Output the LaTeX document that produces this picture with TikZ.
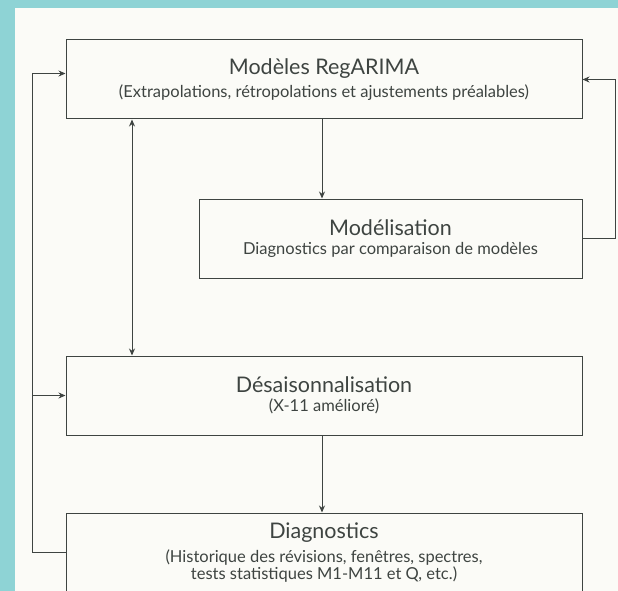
\documentclass[tikz,border=0pt]{standalone}
\usepackage{fontspec}
\setmainfont{Lato}
\usepackage{xcolor}
\usetikzlibrary{arrows.meta, positioning}

\definecolor{framecol}{HTML}{8ED3D5}
\definecolor{paper}{HTML}{FBFBF7}
\definecolor{ink}{HTML}{3E4441}

\newcommand{\boxtitle}{\fontsize{21.5}{24}\selectfont}
\newcommand{\boxsub}{\fontsize{16.5}{20}\selectfont}

\begin{document}
\begin{tikzpicture}[
    x=1pt, y=1pt,
    box/.style={draw=ink, line width=1pt, fill=paper, minimum height=79pt,
                align=center, inner sep=0pt, text=ink},
    arrow/.style={-{Stealth[length=7pt, width=6pt]}, line width=1pt, draw=ink},
]
    % frame and background
    \useasboundingbox (0,0) rectangle (618,-591);
    \fill[framecol] (0,0) rectangle (618,-591);
    \fill[paper] (15,-8) rectangle (618,-591);

    \node[box, minimum width=516pt] (regarima) at (324,-79.5)
        {\boxtitle Modèles RegARIMA\\[5pt]
         \boxsub (Extrapolations, rétropolations et ajustements préalables)};
    \node[box, minimum width=383pt, below left=79pt and 0pt of regarima.south east, anchor=north east] (modelisation)
        {\boxtitle Modélisation\\[5pt]
         \boxsub Diagnostics par comparaison de modèles};
    \node[box, minimum width=516pt, below=236pt of regarima] (desais)
        {\boxtitle Désaisonnalisation\\[5pt]
         \boxsub (X-11 amélioré)};
    \node[box, minimum width=516pt, below=77pt of desais] (diag)
        {\boxtitle Diagnostics\\[6pt]
         \boxsub (Historique des révisions, fenêtres, spectres,\\
         \boxsub tests statistiques M1-M11 et Q, etc.)};

    % feedback loops
    \coordinate (loopL) at (32,0);
    \coordinate (loopR) at (615,0);
    \coordinate (dbl) at (132,0);
    \coordinate (mid) at (322,0);
    \draw[arrow] (diag.west) -- (diag.west -| loopL) -- ([yshift=6pt]regarima.west -| loopL) -- ([yshift=6pt]regarima.west);
    \draw[arrow] (desais.west -| loopL) -- (desais.west);
    \draw[arrow] (modelisation.east) -- (modelisation.east -| loopR) -- (regarima.east -| loopR) -- (regarima.east);

    % main flow
    \draw[arrow] (regarima.south -| mid) -- (modelisation.north -| mid);
    \draw[arrow, {Stealth[length=7pt, width=6pt]}-{Stealth[length=7pt, width=6pt]}] (regarima.south -| dbl) -- (desais.north -| dbl);
    \draw[arrow] (desais.south -| mid) -- (diag.north -| mid);
\end{tikzpicture}
\end{document}
